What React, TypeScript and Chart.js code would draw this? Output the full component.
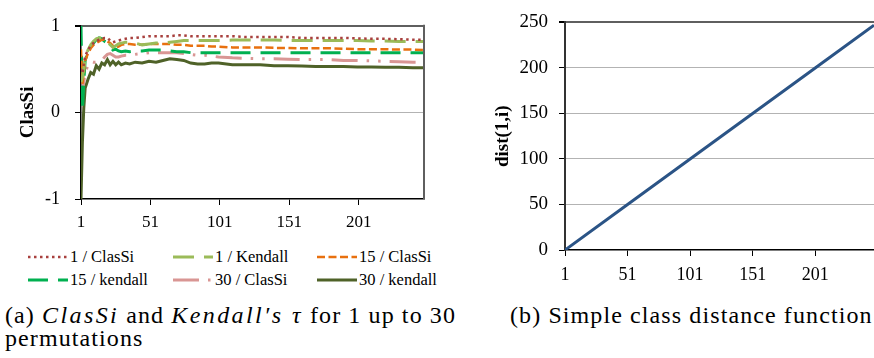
import React, { useEffect, useRef } from 'react';
import { Chart, registerables } from 'chart.js';

Chart.register(...registerables);

const FONT = '"Liberation Serif", "Times New Roman", Tinos, serif';

// ---- Data (a): ClasSi / Kendall's tau vs. position ----
const X_POS = [1, 2, 3, 4, 6, 8, 10, 12, 14, 16, 18, 20, 22, 24, 26, 28, 30,
  33, 36, 40, 45, 50, 55, 60, 65, 70, 75, 80, 85, 90, 95, 100,
  110, 120, 130, 140, 150, 160, 170, 180, 190, 200, 210, 220, 230, 240, 248];

const CLASSI_1 = [0.50, 0.45, 0.55, 0.65, 0.72, 0.77, 0.80, 0.82, 0.84, 0.85, 0.86, 0.86, 0.83, 0.81, 0.82, 0.83, 0.84,
  0.85, 0.86, 0.86, 0.87, 0.88, 0.88, 0.88, 0.88, 0.89, 0.89, 0.88, 0.88, 0.88, 0.88, 0.88,
  0.88, 0.87, 0.87, 0.87, 0.87, 0.86, 0.86, 0.86, 0.86, 0.855, 0.85, 0.85, 0.845, 0.84, 0.84];

const KENDALL_1 = [0.35, 0.40, 0.50, 0.62, 0.72, 0.78, 0.82, 0.85, 0.86, 0.86, 0.84, 0.82, 0.78, 0.75, 0.77, 0.79, 0.80,
  0.81, 0.81, 0.80, 0.78, 0.79, 0.80, 0.80, 0.81, 0.82, 0.83, 0.83, 0.83, 0.83, 0.83, 0.83,
  0.835, 0.835, 0.835, 0.835, 0.83, 0.83, 0.83, 0.83, 0.83, 0.83, 0.825, 0.825, 0.82, 0.82, 0.82];

const CLASSI_15 = [0.73, 0.33, 0.45, 0.60, 0.68, 0.74, 0.78, 0.80, 0.82, 0.84, 0.84, 0.82, 0.80, 0.77, 0.75, 0.76, 0.78,
  0.79, 0.79, 0.78, 0.78, 0.79, 0.79, 0.79, 0.79, 0.78, 0.78, 0.77, 0.77, 0.77, 0.76, 0.76,
  0.75, 0.75, 0.75, 0.745, 0.745, 0.74, 0.74, 0.74, 0.735, 0.73, 0.73, 0.73, 0.725, 0.725, 0.72];

const KENDALL_15 = [1.00, 0.02, 0.35, 0.60, 0.70, 0.76, 0.80, 0.84, 0.86, 0.85, 0.82, 0.80, 0.76, 0.72, 0.73, 0.71, 0.70,
  0.71, 0.70, 0.71, 0.71, 0.72, 0.72, 0.72, 0.71, 0.70, 0.70, 0.69, 0.69, 0.69, 0.69, 0.69,
  0.69, 0.69, 0.69, 0.69, 0.69, 0.69, 0.69, 0.69, 0.69, 0.69, 0.69, 0.69, 0.69, 0.69, 0.69];

const CLASSI_30 = [0.30, 0.20, 0.35, 0.45, 0.55, 0.59, 0.58, 0.58, 0.59, 0.60, 0.64, 0.67, 0.68, 0.66, 0.64, 0.64, 0.65,
  0.66, 0.66, 0.67, 0.68, 0.69, 0.69, 0.69, 0.69, 0.69, 0.68, 0.67, 0.66, 0.66, 0.65, 0.64,
  0.63, 0.625, 0.62, 0.62, 0.615, 0.61, 0.61, 0.61, 0.60, 0.60, 0.595, 0.59, 0.585, 0.58, 0.58];

const KENDALL_30 = [-1.00, -0.35, 0.05, 0.28, 0.38, 0.46, 0.44, 0.54, 0.50, 0.57, 0.55, 0.61, 0.55, 0.59, 0.55, 0.58, 0.55,
  0.57, 0.56, 0.58, 0.57, 0.59, 0.58, 0.60, 0.62, 0.61, 0.60, 0.57, 0.56, 0.56, 0.57, 0.57,
  0.55, 0.55, 0.55, 0.54, 0.54, 0.535, 0.53, 0.53, 0.53, 0.525, 0.525, 0.52, 0.52, 0.515, 0.515];

const SERIES_LABELS = ['1 / ClasSi', '1 / Kendall', '15 / ClasSi', '15 / kendall', '30 / ClasSi', '30 / kendall'];
const SERIES_VALUES = [CLASSI_1, KENDALL_1, CLASSI_15, KENDALL_15, CLASSI_30, KENDALL_30];

// ---- Data (b): simple class distance ----
const DIST_X = [1, 51, 101, 151, 201, 248];
const DIST_Y = [0, 50, 100, 150, 200, 247];

const X_TICKS = [1, 51, 101, 151, 201];
const Y_TICKS_A = [-1, 0, 1];
const Y_TICKS_B = [0, 50, 100, 150, 200, 250];

// ---- Styles ----
const SERIES_STYLE = [
  { color: '#A8403E', dash: [2.5, 3.5], width: 2.5 },
  { color: '#9BBB59', dash: [21, 10], width: 3 },
  { color: '#E8700F', dash: [8, 3.5], width: 2.5 },
  { color: '#00B050', dash: [20, 10], width: 3 },
  { color: '#D99694', dash: [26, 9, 2.5, 9, 2.5, 9], width: 3 },
  { color: '#4F6228', dash: [], width: 3 },
];

const GRID_GRAY = '#b3b3b3';
const BORDER_GRAY = '#5f5f5f';

const rightBorder = {
  id: 'rightBorder',
  afterDatasetsDraw(chart: any) {
    const { ctx, chartArea } = chart;
    ctx.save();
    ctx.strokeStyle = BORDER_GRAY;
    ctx.lineWidth = 2;
    ctx.beginPath();
    ctx.moveTo(chartArea.right, chartArea.top - 1);
    ctx.lineTo(chartArea.right, chartArea.bottom);
    ctx.stroke();
    ctx.restore();
  },
};

function gridColor(top: number, bottom: number) {
  return (c: any) => {
    const v = c.tick ? c.tick.value : null;
    if (v === top) return BORDER_GRAY;
    if (v === bottom) return 'rgba(0,0,0,0)';
    return GRID_GRAY;
  };
}
function gridWidth(top: number) {
  return (c: any) => (c.tick && c.tick.value === top ? 2 : 1);
}

export default function App() {
  const leftRef = useRef<HTMLCanvasElement | null>(null);
  const rightRef = useRef<HTMLCanvasElement | null>(null);

  useEffect(() => {
    const left = new Chart(leftRef.current as HTMLCanvasElement, {
      type: 'line',
      data: {
        datasets: SERIES_LABELS.map((label, i) => ({
          label,
          data: X_POS.map((x, j) => ({ x, y: SERIES_VALUES[i][j] })),
          borderColor: SERIES_STYLE[i].color,
          backgroundColor: SERIES_STYLE[i].color,
          borderDash: SERIES_STYLE[i].dash,
          borderWidth: SERIES_STYLE[i].width,
          pointRadius: 0,
          tension: 0,
          fill: false,
        })),
      },
      options: {
        responsive: false,
        animation: false,
        devicePixelRatio: 1,
        layout: { padding: { top: 16, right: 21, left: 0, bottom: 0 } },
        plugins: { legend: { display: false }, tooltip: { enabled: false } },
        scales: {
          x: {
            type: 'linear',
            min: 1,
            max: 248,
            afterBuildTicks: (s: any) => { s.ticks = X_TICKS.map((v) => ({ value: v })); },
            afterFit: (s: any) => { s.height = 46; },
            ticks: { font: { family: FONT, size: 17 }, color: '#000', padding: 7, maxRotation: 0, autoSkip: false, callback: (v: any) => String(v) },
            grid: { drawOnChartArea: false, drawTicks: true, tickLength: 6, tickColor: '#000' },
            border: { color: '#000', width: 1.5 },
          },
          y: {
            min: -1,
            max: 1,
            afterBuildTicks: (s: any) => { s.ticks = Y_TICKS_A.map((v) => ({ value: v })); },
            afterFit: (s: any) => { s.width = 81; },
            ticks: { font: { family: FONT, size: 18 }, color: '#000', padding: 15, callback: (v: any) => String(v) },
            title: { display: true, text: 'ClasSi', color: '#000', font: { family: FONT, size: 19, weight: 'bold' }, padding: { top: 17, bottom: 0 } },
            grid: { color: gridColor(1, -1), lineWidth: gridWidth(1), tickLength: 6, tickColor: '#000' },
            border: { color: '#000', width: 1.5 },
          },
        },
      },
      plugins: [rightBorder],
    } as any);

    const right = new Chart(rightRef.current as HTMLCanvasElement, {
      type: 'line',
      data: {
        datasets: [{
          label: 'dist(1,i)',
          data: DIST_X.map((x, j) => ({ x, y: DIST_Y[j] })),
          borderColor: '#2B5486',
          borderWidth: 3,
          pointRadius: 0,
          tension: 0,
          fill: false,
        }],
      },
      options: {
        responsive: false,
        animation: false,
        devicePixelRatio: 1,
        layout: { padding: { top: 19, right: 0, left: 0, bottom: 0 } },
        plugins: { legend: { display: false }, tooltip: { enabled: false } },
        scales: {
          x: {
            type: 'linear',
            min: 1,
            max: 248,
            afterBuildTicks: (s: any) => { s.ticks = X_TICKS.map((v) => ({ value: v })); },
            afterFit: (s: any) => { s.height = 50; },
            ticks: { font: { family: FONT, size: 18 }, color: '#000', padding: 8, maxRotation: 0, autoSkip: false, callback: (v: any) => String(v) },
            grid: { drawOnChartArea: false, drawTicks: true, tickLength: 6, tickColor: '#000' },
            border: { color: '#000', width: 1.5 },
          },
          y: {
            min: 0,
            max: 250,
            afterBuildTicks: (s: any) => { s.ticks = Y_TICKS_B.map((v) => ({ value: v })); },
            afterFit: (s: any) => { s.width = 105; },
            ticks: { font: { family: FONT, size: 19 }, color: '#000', padding: 11, callback: (v: any) => String(v) },
            title: { display: true, text: 'dist(1,i)', color: '#000', font: { family: FONT, size: 19, weight: 'bold' }, padding: { top: 32, bottom: 0 } },
            grid: { color: gridColor(250, 0), lineWidth: gridWidth(250), tickLength: 6, tickColor: '#000' },
            border: { color: '#333', width: 2 },
          },
        },
      },
    } as any);

    return () => {
      left.destroy();
      right.destroy();
    };
  }, []);

  const legendCols = [{ line: 28, text: 70 }, { line: 173, text: 215 }, { line: 317, text: 359 }];
  const legendRows = [257, 280];
  const captionStyle: any = { position: 'absolute', top: 304, fontSize: 24, lineHeight: '23px', letterSpacing: 1.1, whiteSpace: 'nowrap' };
  const mathStyle: any = { fontStyle: 'italic', letterSpacing: 2.4 };

  return (
    <div style={{ position: 'absolute', left: 0, top: 0, width: 874, height: 358, background: '#fff', overflow: 'hidden', color: '#000', fontFamily: FONT }}>
      <canvas ref={leftRef} width={445} height={245} style={{ position: 'absolute', left: 0, top: 0, width: 445, height: 245 }} />
      <canvas ref={rightRef} width={414} height={300} style={{ position: 'absolute', left: 460, top: 0, width: 414, height: 300 }} />
      {SERIES_LABELS.map((label, i) => {
        const col = legendCols[i % 3];
        const cy = legendRows[Math.floor(i / 3)];
        const st = SERIES_STYLE[i];
        return (
          <React.Fragment key={label}>
            <svg width={40} height={10} style={{ position: 'absolute', left: col.line, top: cy - 5 }}>
              <line x1={0} y1={5} x2={40} y2={5} stroke={st.color} strokeWidth={st.width} strokeDasharray={st.dash.length ? st.dash.join(' ') : undefined} />
            </svg>
            <span style={{ position: 'absolute', left: col.text, top: cy - 10, fontSize: 16.5, lineHeight: '20px', whiteSpace: 'nowrap' }}>{label}</span>
          </React.Fragment>
        );
      })}
      <div style={{ ...captionStyle, left: 5 }}>
        (a) <span style={mathStyle}>ClasSi</span> and <span style={mathStyle}>Kendall′s τ</span> for 1 up to 30<br />permutations
      </div>
      <div style={{ ...captionStyle, left: 510 }}>
        (b) Simple class distance function
      </div>
    </div>
  );
}
